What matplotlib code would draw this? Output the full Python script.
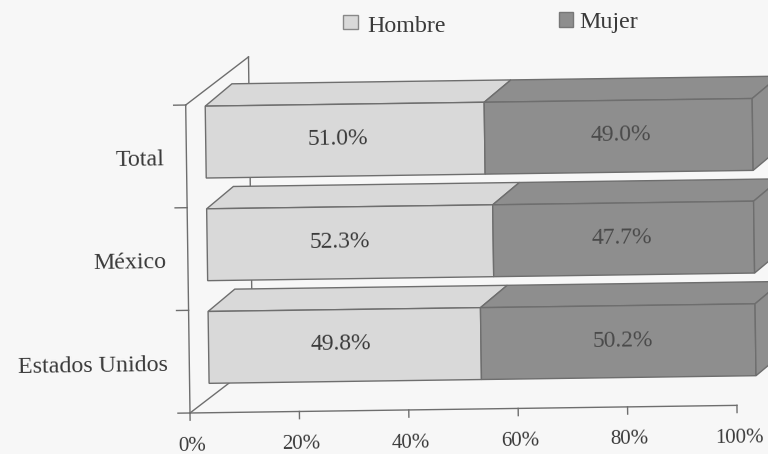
import matplotlib
matplotlib.use('Agg')
import matplotlib.pyplot as plt
from matplotlib.patches import Rectangle
from matplotlib.transforms import Affine2D

# datos
categorias = ['Total', 'México', 'Estados Unidos']
hombre = [51.0, 52.3, 49.8]
mujer = [49.0, 47.7, 50.2]
ticks_x = [0, 20, 40, 60, 80, 100]
ticks_y = [0, 1, 2, 3]
filas = [2.5, 1.5, 0.5]

plt.rcParams['font.family'] = ['Liberation Serif', 'DejaVu Serif']

W, H = 768, 454
FONDO = '#f7f7f7'
TEXTO = '#3a3a3a'
LINEA = '#6e6e6e'
C_HOMBRE = '#d9d9d9'
C_MUJER = '#8e8e8e'
GIRO = 0.8  # la hoja escaneada esta un poco girada

fig = plt.figure(figsize=(W / 100, H / 100), dpi=100, facecolor=FONDO)
ax = fig.add_axes([190 / W, (H - 413) / H, 547 / W, 308 / H])
ax.set_xlim(0, 100)
ax.set_ylim(0, 3)
ax.axis('off')

giro = Affine2D().rotate_deg_around(190, H - 413, GIRO)
plano = ax.transData + giro
frente = ax.transData + Affine2D().translate(19.5, 14) + giro

# paredes y ejes
prof_x, prof_y = 11.6, 0.46
lin = dict(color=LINEA, lw=1, clip_on=False, transform=plano, zorder=1)
ax.plot([0, 0], [0, 3], **lin)
ax.plot([0, prof_x], [3, 3 + prof_y], **lin)
ax.plot([prof_x, prof_x], [prof_y, 3 + prof_y], **lin)
ax.plot([0, prof_x], [0, prof_y], **lin)
ax.plot([0, 100], [0, 0], **lin)
for t in ticks_x:
    ax.plot([t, t], [0, -0.07], **lin)
    ax.text(t + 0.3, -0.32, f'{t}%', transform=plano, ha='center', va='center',
            fontsize=15, color=TEXTO, rotation=GIRO, rotation_mode='anchor')
for t in ticks_y:
    ax.plot([-2.2, 0], [t, t], **lin)

# barras 3D
alto = 0.7
bar_x, bar_y = 4.94, 0.214
borde = dict(edgecolor=LINEA, lw=1, clip_on=False, transform=frente, zorder=3)
for fila, cat, h, m in zip(filas, categorias, hombre, mujer):
    tope = fila + alto / 2
    for ini, val, color in [(0, h, C_HOMBRE), (h, m, C_MUJER)]:
        fin = ini + val
        ax.fill([ini, fin, fin + bar_x, ini + bar_x],
                [tope, tope, tope + bar_y, tope + bar_y], facecolor=color, **borde)
        ax.barh(fila, val, height=alto, left=ini, color=color, **borde)
    ax.fill([100, 100 + bar_x, 100 + bar_x, 100],
            [tope, tope + bar_y, tope + bar_y - alto, tope - alto],
            facecolor=C_MUJER, **borde)
    ax.text(24.2, fila + 0.01, f'{h:.1f}%', transform=frente, ha='center', va='center',
            fontsize=17, color=TEXTO, rotation=GIRO, rotation_mode='anchor', zorder=4)
    ax.text(75.8, fila + 0.01, f'{m:.1f}%', transform=frente, ha='center', va='center',
            fontsize=17, color='#4a4a4a', rotation=GIRO, rotation_mode='anchor', zorder=4)
    ax.text(-4.0, fila - 0.03, cat, transform=plano, ha='right', va='center',
            fontsize=17.3, color=TEXTO, rotation=GIRO, rotation_mode='anchor')

ax.set_xlim(0, 100)
ax.set_ylim(0, 3)

# leyenda
fig.add_artist(Rectangle((343 / W, 1 - 29 / H), 15 / W, 14 / H, transform=fig.transFigure,
                         facecolor=C_HOMBRE, edgecolor='#888888', lw=1))
fig.add_artist(Rectangle((559 / W, 1 - 27 / H), 14 / W, 15 / H, transform=fig.transFigure,
                         facecolor=C_MUJER, edgecolor='#777777', lw=1))
fig.text(367 / W, 1 - 32 / H, 'Hombre', fontsize=17.3, color=TEXTO, va='baseline')
fig.text(579 / W, 1 - 28 / H, 'Mujer', fontsize=17.3, color=TEXTO, va='baseline')

fig.savefig('out.png', dpi=100, facecolor=FONDO)
